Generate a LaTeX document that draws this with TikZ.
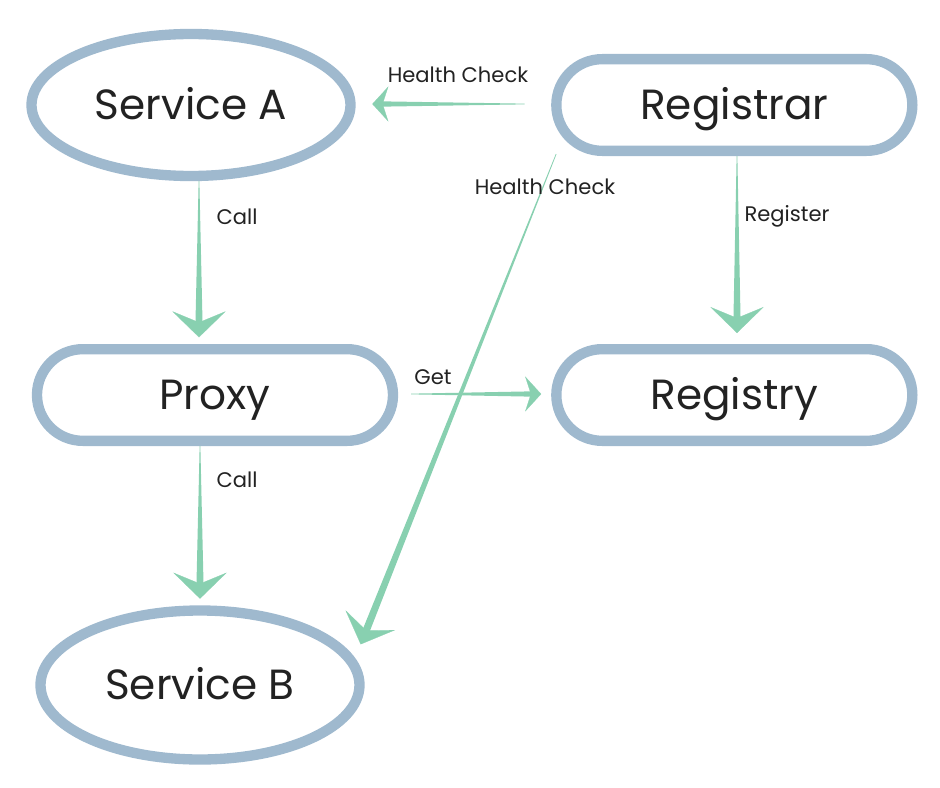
\documentclass[tikz,border=0pt]{standalone}
\usepackage{fontspec}
\setmainfont{Poppins}
\usetikzlibrary{shapes.geometric,arrows.meta,calc,positioning}
\definecolor{edgeblue}{RGB}{159,185,206}
\definecolor{flowgreen}{RGB}{136,208,176}
\definecolor{inkgray}{RGB}{34,34,34}

% tapered connector: from, tip, half width at the head, head style
\newcommand{\flowarrow}[4]{%
  \fill[flowgreen] ($(#1)!0.3pt!90:(#2)$) -- ($(#2)!0.25cm!(#1)!#3!90:(#2)$)
    -- ($(#2)!0.25cm!(#1)!#3!-90:(#2)$) -- ($(#1)!0.3pt!-90:(#2)$) -- cycle;
  \draw[flowgreen, line width=0.2pt, #4] ($(#2)!0.25cm!(#1)$) -- (#2);
}

\begin{document}
\begin{tikzpicture}[node distance=8.7cm]
\tikzstyle{oval} = [ellipse, draw=edgeblue, line width=0.31cm, inner sep=0pt, minimum width=9.57cm, minimum height=4.26cm, text=inkgray, text height=25pt, text depth=0pt, font=\fontsize{36}{42}\selectfont]
\tikzstyle{roundbox} = [rectangle, rounded corners=1.375cm, draw=edgeblue, line width=0.31cm, minimum width=10.68cm, minimum height=2.75cm, text=inkgray, text height=25pt, text depth=0pt, font=\fontsize{36}{42}\selectfont]
\tikzstyle{lbl} = [text=inkgray, font=\fontsize{18}{21}\selectfont]
\tikzstyle{bighead} = [-{Stealth[length=0.78cm, width=1.6cm, inset=0.33cm]}]
\tikzstyle{smallhead} = [-{Stealth[length=0.48cm, width=1.05cm, inset=0.17cm]}]
\useasboundingbox (-5.73,3.15) rectangle (22.47,-20.49);

\node (svcA) [oval] {Service A};
\node (registrar) [roundbox, right of=svcA, node distance=16.3cm] {Registrar};
\node (proxy) [roundbox, below of=svcA, xshift=0.72cm] {Proxy};
\node (registry) [roundbox, below of=registrar] {Registry};
\node (svcB) [oval, below of=proxy, xshift=-0.45cm, minimum height=4.47cm] {Service B};

% connector ends
\coordinate (callA) at ([xshift=0.24cm]svcA.south);
\coordinate (callAtip) at ([yshift=0.2cm]callA |- proxy.north);
\coordinate (callP) at ([xshift=-0.45cm]proxy.south);
\coordinate (callPtip) at ([yshift=0.2cm]callP |- svcB.north);
\coordinate (reg) at ([xshift=0.08cm]registrar.south);
\coordinate (regtip) at ([yshift=0.33cm]reg |- registry.north);
\coordinate (hcA) at ([xshift=-0.8cm, yshift=0.03cm]registrar.west);
\coordinate (hcAtip) at ($(svcA.east |- hcA)+(0.5,0)$);
\coordinate (get) at ([xshift=0.39cm, yshift=0.03cm]proxy.east);
\coordinate (gettip) at ($(registry.west |- get)+(-0.3,0)$);
\coordinate (hcB) at ([xshift=0.15cm, yshift=0.06cm]registrar.south west);
\coordinate (hcBtip) at ([xshift=-0.12cm, yshift=1.22cm]svcB.east);

\flowarrow{callA}{callAtip}{0.11cm}{bighead}
\flowarrow{callP}{callPtip}{0.11cm}{bighead}
\flowarrow{reg}{regtip}{0.11cm}{bighead}
\flowarrow{hcA}{hcAtip}{0.08cm}{smallhead}
\flowarrow{get}{gettip}{0.08cm}{smallhead}
\flowarrow{hcB}{hcBtip}{0.11cm}{bighead}

\node (hcAlbl) [lbl] at (8.01,0.9) {Health Check};
\node (hcBlbl) [lbl] at (10.62,-2.46) {Health Check};
\node (callAlbl) [lbl] at (1.38,-3.36) {Call};
\node (reglbl) [lbl] at (17.88,-3.33) {Register};
\node (getlbl) [lbl] at (7.26,-8.16) {Get};
\node (callPlbl) [lbl] at (1.38,-11.25) {Call};
\end{tikzpicture}
\end{document}
